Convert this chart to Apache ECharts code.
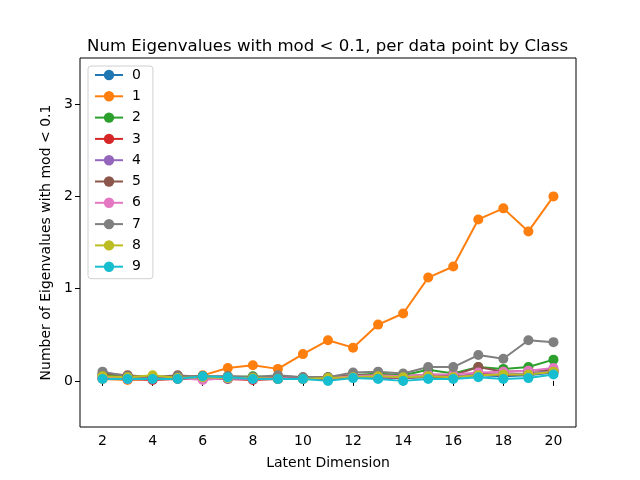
<!DOCTYPE html>
<html>
<head>
<meta charset="utf-8">
<script src="https://cdn.jsdelivr.net/npm/echarts@6/dist/echarts.min.js"></script>
<style>
  html, body { margin: 0; padding: 0; background: #fff; }
  #chart { width: 640px; height: 480px; }
</style>
</head>
<body>
<div id="chart"></div>
<script>
// latent dimensions on the x axis
const dims = [2, 3, 4, 5, 6, 7, 8, 9, 10, 11, 12, 13, 14, 15, 16, 17, 18, 19, 20];
const classNames = ['0', '1', '2', '3', '4', '5', '6', '7', '8', '9'];
const xTicks = [2, 4, 6, 8, 10, 12, 14, 16, 18, 20];
const yTicks = [0, 1, 2, 3];

// values, one array per class
const class0 = [0.03, 0.02, 0.02, 0.03, 0.04, 0.03, 0.02, 0.02, 0.03, 0.02, 0.04, 0.03, 0.03, 0.04, 0.04, 0.06, 0.05, 0.06, 0.09];
const class1 = [0.02, 0.01, 0.02, 0.03, 0.06, 0.14, 0.17, 0.13, 0.29, 0.44, 0.36, 0.61, 0.73, 1.12, 1.24, 1.75, 1.87, 1.62, 2.0];
const class2 = [0.06, 0.05, 0.04, 0.03, 0.05, 0.04, 0.05, 0.04, 0.03, 0.04, 0.06, 0.08, 0.06, 0.12, 0.08, 0.15, 0.13, 0.15, 0.23];
const class3 = [0.03, 0.02, 0.01, 0.02, 0.02, 0.02, 0.01, 0.02, 0.02, 0.02, 0.04, 0.04, 0.03, 0.05, 0.04, 0.08, 0.06, 0.08, 0.10];
const class4 = [0.03, 0.02, 0.02, 0.03, 0.03, 0.02, 0.02, 0.02, 0.03, 0.03, 0.04, 0.03, 0.04, 0.05, 0.05, 0.07, 0.07, 0.08, 0.11];
const class5 = [0.08, 0.06, 0.04, 0.06, 0.04, 0.05, 0.04, 0.05, 0.04, 0.04, 0.06, 0.06, 0.05, 0.07, 0.06, 0.15, 0.10, 0.11, 0.12];
const class6 = [0.04, 0.02, 0.03, 0.03, 0.01, 0.03, 0.02, 0.03, 0.02, 0.03, 0.05, 0.06, 0.05, 0.07, 0.07, 0.09, 0.10, 0.11, 0.14];
const class7 = [0.10, 0.05, 0.04, 0.05, 0.05, 0.05, 0.04, 0.06, 0.04, 0.04, 0.09, 0.10, 0.08, 0.15, 0.15, 0.28, 0.24, 0.44, 0.42];
const class8 = [0.05, 0.04, 0.06, 0.03, 0.04, 0.03, 0.03, 0.02, 0.02, 0.03, 0.04, 0.05, 0.04, 0.05, 0.04, 0.06, 0.07, 0.07, 0.10];
const class9 = [0.02, 0.02, 0.02, 0.02, 0.05, 0.04, 0.02, 0.02, 0.02, 0.00, 0.03, 0.02, 0.00, 0.02, 0.02, 0.04, 0.02, 0.03, 0.07];

const classValues = [class0, class1, class2, class3, class4, class5, class6, class7, class8, class9];
const colors = ['#1f77b4', '#ff7f0e', '#2ca02c', '#d62728', '#9467bd',
                '#8c564b', '#e377c2', '#7f7f7f', '#bcbd22', '#17becf'];

const font = 'DejaVu Sans';

const chart = echarts.init(document.getElementById('chart'), null, { renderer: 'canvas' });

const series = classNames.map(function (name, i) {
  return {
    name: name,
    type: 'line',
    data: dims.map(function (d, j) { return [d, classValues[i][j]]; }),
    symbol: 'circle',
    symbolSize: 10,
    showSymbol: true,
    lineStyle: { width: 2, color: colors[i] },
    itemStyle: { color: colors[i] },
    emphasis: { disabled: true },
    animation: false
  };
});

chart.setOption({
  animation: false,
  color: colors,
  title: {
    text: 'Num Eigenvalues with mod < 0.1, per data point by Class',
    left: 82,
    top: 33,
    textStyle: { fontFamily: font, fontSize: 16.6, fontWeight: 'normal', color: '#000' }
  },
  grid: {
    left: 80, right: 64, top: 58, bottom: 53,
    show: true, borderColor: '#000', borderWidth: 1, backgroundColor: '#fff'
  },
  legend: {
    orient: 'vertical',
    left: 88, top: 66,
    itemWidth: 28, itemHeight: 13,
    itemGap: 7.3,
    padding: [2, 12, 5, 6],
    borderColor: '#d0d0d0', borderWidth: 1, borderRadius: 3,
    backgroundColor: 'rgba(255,255,255,0.8)',
    textStyle: { fontFamily: font, fontSize: 14, color: '#000', padding: [0, 0, 0, 4] },
    data: classNames
  },
  xAxis: {
    type: 'value',
    min: 1.1, max: 20.9,
    name: 'Latent Dimension',
    nameLocation: 'middle',
    nameGap: 29,
    nameTextStyle: { fontFamily: font, fontSize: 14, color: '#000' },
    axisLine: { show: false },
    splitLine: { show: false },
    axisTick: { show: true, length: 5, lineStyle: { color: '#000' }, customValues: xTicks },
    axisLabel: { fontFamily: font, fontSize: 14, color: '#000', margin: 7, customValues: xTicks }
  },
  yAxis: {
    type: 'value',
    min: -0.5, max: 3.5,
    name: 'Number of Eigenvalues with mod < 0.1',
    nameLocation: 'middle',
    nameGap: 25,
    nameTextStyle: { fontFamily: font, fontSize: 14, color: '#000' },
    axisLine: { show: false },
    splitLine: { show: false },
    axisTick: { show: true, length: 5, lineStyle: { color: '#000' }, customValues: yTicks },
    axisLabel: { fontFamily: font, fontSize: 14, color: '#000', margin: 7, customValues: yTicks }
  },
  series: series
});
</script>
</body>
</html>
